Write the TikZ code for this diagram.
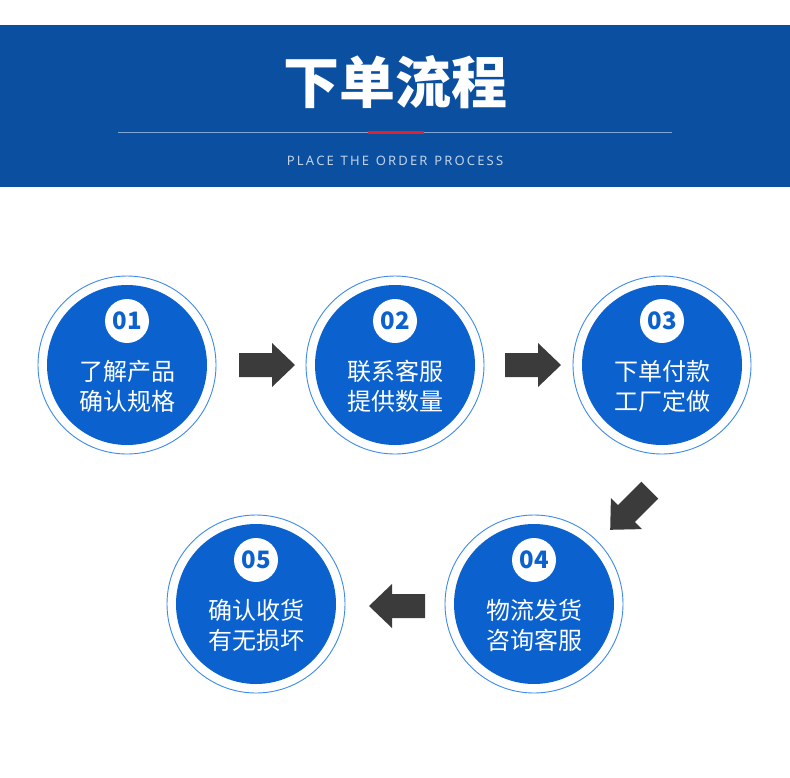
\documentclass[tikz,border=0pt]{standalone}
\usepackage{fontspec}
\newfontfamily\cjk{Noto Sans CJK SC}
\newfontfamily\cjkb{Noto Sans CJK SC Black}
\setmainfont{Noto Sans}
\begin{document}
\begin{tikzpicture}[x=1pt,y=-1pt,
  ring/.style={circle,draw=ringblue,line width=0.9pt,minimum size=178pt,inner sep=0pt},
  disk/.style={circle,fill=diskblue,minimum size=160pt,inner sep=0pt},
  numdisk/.style={circle,fill=white,minimum size=44pt,inner sep=0pt,text=diskblue,font=\cjkb\fontsize{24}{24}\selectfont},
  steptext/.style={text=white,align=center,font=\cjk\fontsize{24}{30}\selectfont},
  blockarrow/.style={fill=arrowgray}]
\definecolor{banner}{HTML}{0A4FA0}
\definecolor{ringblue}{HTML}{3D8BEB}
\definecolor{diskblue}{HTML}{0B62CF}
\definecolor{arrowgray}{HTML}{3B3B3B}
\definecolor{titleline}{HTML}{7FA6D6}
\definecolor{titlered}{HTML}{E0222A}
\useasboundingbox (0,0) rectangle (790,777);
\fill[white] (0,0) rectangle (790,777);
\fill[banner] (0,25) rectangle (790,187);
\node[text=white,font=\cjkb\fontsize{56}{56}\selectfont] (title) at (395,82) {下单流程};
\draw[titleline,line width=0.8pt] (118,132) coordinate (la) -- (672,132) coordinate (lb);
\draw[titlered,line width=3pt] (368,132) coordinate (ra) -- (424,132) coordinate (rb);
\node[text=white!75!banner,font=\fontsize{13}{13}\selectfont] (sub) at (395,161) {P\,L\,A\,C\,E\ \ T\,H\,E\ \ O\,R\,D\,E\,R\ \ P\,R\,O\,C\,E\,S\,S};
\foreach \n/\x/\y/\a/\b in {1/127/365/了解产品/确认规格, 2/395/365/联系客服/提供数量, 3/662/365/下单付款/工厂定做, 4/534/604/物流发货/咨询客服, 5/256/604/确认收货/有无损坏}{
  \node[ring] (r\n) at (\x,\y) {};
  \node[disk] (d\n) at (\x,\y) {};
  \node[numdisk] (n\n) at (\x,\y-44) {0\n};
  \node[steptext] (t\n) at (\x,\y+21) {\a\\\b};
}
\def\arr{(-28,-12) -- (5,-12) -- (5,-22) -- (28,0) -- (5,22) -- (5,12) -- (-28,12) -- cycle}
\fill[blockarrow,shift={(267,365)}] \arr;
\fill[blockarrow,shift={(533,365)}] \arr;
\fill[blockarrow,shift={(630,510)},rotate=-135] \arr;
\fill[blockarrow,shift={(397,606)},rotate=180] \arr;
\end{tikzpicture}
\end{document}
